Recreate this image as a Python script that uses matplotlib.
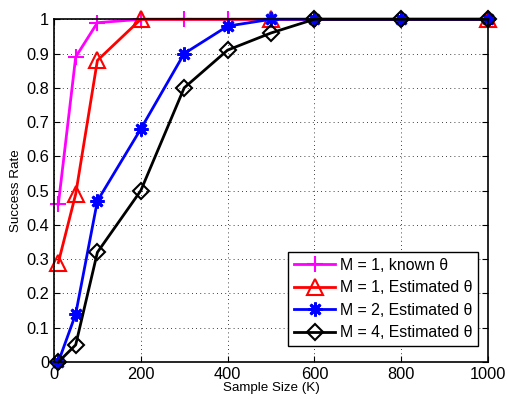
import matplotlib
matplotlib.use('Agg')

import matplotlib.pyplot as plt

plt.rcParams['font.family'] = ['Liberation Sans', 'DejaVu Sans']

# sample sizes (K)
x_all = [10, 50, 100, 200, 300, 400, 500, 600, 800, 1000]
x_red = [10, 50, 100, 200, 500, 1000]

known_m1 = [0.46, 0.89, 0.99, 1.0, 1.0, 1.0, 1.0, 1.0, 1.0, 1.0]
est_m1 = [0.29, 0.49, 0.88, 1.0, 1.0, 1.0]
est_m2 = [0.0, 0.14, 0.47, 0.68, 0.90, 0.98, 1.0, 1.0, 1.0, 1.0]
est_m4 = [0.0, 0.05, 0.32, 0.50, 0.80, 0.91, 0.96, 1.0, 1.0, 1.0]

labels = ['M = 1, known θ', 'M = 1, Estimated θ',
          'M = 2, Estimated θ', 'M = 4, Estimated θ']

fig = plt.figure(figsize=(5.07, 3.99), dpi=100)
ax = fig.add_axes([0.1065, 0.0927, 0.856, 0.859])

lw = 2
star = (8, 2, 0)
ax.plot(x_all, known_m1, color='#ff00ff', marker='+', ms=12, mew=1.5, lw=lw,
        label=labels[0], clip_on=False)
ax.plot(x_red, est_m1, color='red', marker='^', ms=12, mew=1.5, mfc='none', lw=lw,
        label=labels[1], clip_on=False)
ax.plot(x_all, est_m2, color='blue', marker=star, ms=10, mew=2, lw=lw,
        label=labels[2], clip_on=False)
ax.plot(x_all, est_m4, color='black', marker='D', ms=8.5, mew=1.5, mfc='none', lw=lw,
        label=labels[3], clip_on=False)

ax.set_xlim(0, 1000)
ax.set_ylim(0, 1)
ax.set_xticks(range(0, 1001, 200))
ax.set_yticks([i / 10 for i in range(11)])
ax.set_yticklabels(['0', '0.1', '0.2', '0.3', '0.4', '0.5', '0.6', '0.7', '0.8', '0.9', '1'])
ax.tick_params(direction='in', labelsize=11.8, length=4, top=True, right=True)
ax.grid(True, color='black', linestyle=(0, (1, 4)), linewidth=0.6)
for s in ax.spines.values():
    s.set_linewidth(1.2)

ax.set_xlabel('Sample Size (K)', fontsize=9.6, labelpad=0)
ax.set_ylabel('Success Rate', fontsize=9.6, labelpad=3)

leg = ax.legend(loc='lower right', bbox_to_anchor=(1 - 10 / 434, 16 / 343),
                borderaxespad=0, fancybox=False, edgecolor='black', framealpha=1,
                fontsize=11.4, handlelength=2.6, labelspacing=0.48, borderpad=0.35,
                handletextpad=0.3)
leg.get_frame().set_linewidth(1.0)

fig.savefig('out.png', dpi=100)
